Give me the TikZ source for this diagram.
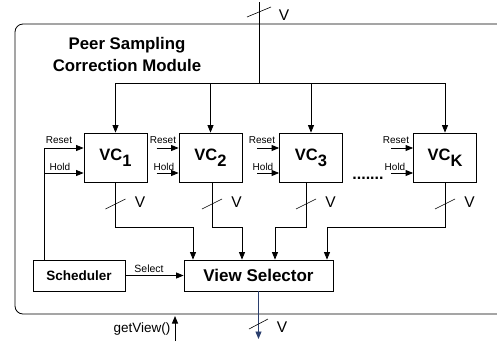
\documentclass[tikz,border=0pt]{standalone}
\usepackage{fontspec}
\setmainfont{Liberation Sans}
\usetikzlibrary{arrows.meta,calc}
\definecolor{outblue}{HTML}{2B3F6E}
\tikzset{
  wire/.style={line width=0.8pt,draw=black},
  arr/.style={wire,-{Triangle[length=7.5pt,width=6pt]}},
  blk/.style={draw=black,line width=0.8pt,fill=white,inner sep=0pt},
  vcbox/.style={blk,minimum width=63pt,minimum height=49pt,font=\fontsize{16.5}{16.5}\selectfont\bfseries},
  tag/.style={font=\fontsize{10}{10}\selectfont,inner sep=0pt},
  vlab/.style={font=\fontsize{15.5}{15.5}\selectfont,inner sep=0pt},
  slashline/.style={line width=0.6pt}
}
\newcommand{\vcsub}[1]{VC\raisebox{-6pt}{#1}}
\begin{document}
\begin{tikzpicture}[x=1pt,y=-1pt]
\useasboundingbox (0,0) rectangle (497,341);
\clip (0,0) rectangle (497,341);
% outer module
\draw[line width=0.8pt,rounded corners=8pt] (15,24) rectangle (515,314);
\node[align=center,font=\fontsize{16.8}{22}\selectfont\bfseries,inner sep=0pt] (title) at (127,54.5) {Peer Sampling\\Correction Module};

% VC blocks
\node[vcbox] (vc1) at (115.5,157.5) {\vcsub{1}};
\node[vcbox] (vc2) at (210.5,157.5) {\vcsub{2}};
\node[vcbox] (vc3) at (311,157.5) {\vcsub{3}};
\node[vcbox] (vck) at (445,157.5) {\vcsub{K}};
\node[font=\fontsize{16}{16}\selectfont\bfseries,inner sep=0pt,anchor=base] (dots) at (368,179) {.......};

% View selector and scheduler
\node[blk,minimum width=149pt,minimum height=31pt,font=\fontsize{17}{17}\selectfont\bfseries] (vs) at (258.5,275.5) {View Selector};
\node[blk,minimum width=92pt,minimum height=31pt,font=\fontsize{13.5}{13.5}\selectfont\bfseries] (sch) at (79,275.5) {Scheduler};

% top input bus
\coordinate (vin) at (259,2);
\coordinate (bus) at (259,83);
\draw[wire] (vin) -- (bus);
\draw[slashline] (247,17) -- (271,7);
\node[vlab] (vtop) at (284,15) {V};
\draw[arr] (bus) -| (vc1);
\draw[arr] (bus) -| (vc2);
\draw[arr] (bus) -| (vc3);
\draw[arr] (bus) -| (vck);

% Reset / Hold for VC1 from scheduler
\coordinate (r1) at (44,148);
\coordinate (h1) at (44,173);
\draw[arr] (r1 |- sch.north) -- (r1) -- (r1 -| vc1.west);
\draw[arr] (h1) -- (h1 -| vc1.west);
\node[tag,anchor=base] (rt1) at (59,143) {Reset};
\node[tag,anchor=base] (ht1) at (60,170) {Hold};

% Reset / Hold for other VCs
\foreach \b/\rx/\hx in {vc2/163/164, vc3/262/263, vck/396/395}{
  \draw[arr] ([xshift=-22pt,yshift=9.5pt]\b.west) -- ([yshift=9.5pt]\b.west);
  \draw[arr] ([xshift=-22pt,yshift=-15.5pt]\b.west) -- ([yshift=-15.5pt]\b.west);
  \node[tag,anchor=base] at (\rx,143) {Reset};
  \node[tag,anchor=base] at (\hx,170) {Hold};
}

% outputs to view selector
\coordinate (i1) at (193,227);
\coordinate (i2) at (242,227);
\coordinate (i3) at (275,227);
\coordinate (i4) at (327,227);
\draw[arr] (vc1.south) |- (i1) -- (i1 |- vs.north);
\draw[arr] ([xshift=1.5pt]vc2.south) |- (i2) -- (i2 |- vs.north);
\draw[arr] ([xshift=-5pt]vc3.south) |- (i3) -- (i3 |- vs.north);
\draw[arr] (vck.south) |- (i4) -- (i4 |- vs.north);
\foreach \x in {115.5,212,306,445}{
  \draw[slashline] (\x-10,209) -- (\x+10,199);
  \node[vlab] at (\x+24.5,202) {V};
}

% select
\draw[arr] (sch.east) -- (vs.west);
\node[tag,font=\fontsize{10.5}{10.5}\selectfont,anchor=base] (selt) at (149,272) {Select};

% output of module
\coordinate (vout) at (258.5,339);
\draw[wire,draw=outblue,-{Triangle[length=7.5pt,width=6pt]}] (vs.south) -- (vout);
\draw[slashline] (249,329) -- (268,319);
\node[vlab] (vbot) at (282,327) {V};

% getView
\coordinate (gv0) at (175,341);
\coordinate (gv1) at (175,316);
\draw[arr,line width=1pt] (gv0) -- (gv1);
\node[font=\fontsize{13.5}{13.5}\selectfont,inner sep=0pt] (gvt) at (142,329) {getView()};
\end{tikzpicture}
\end{document}
